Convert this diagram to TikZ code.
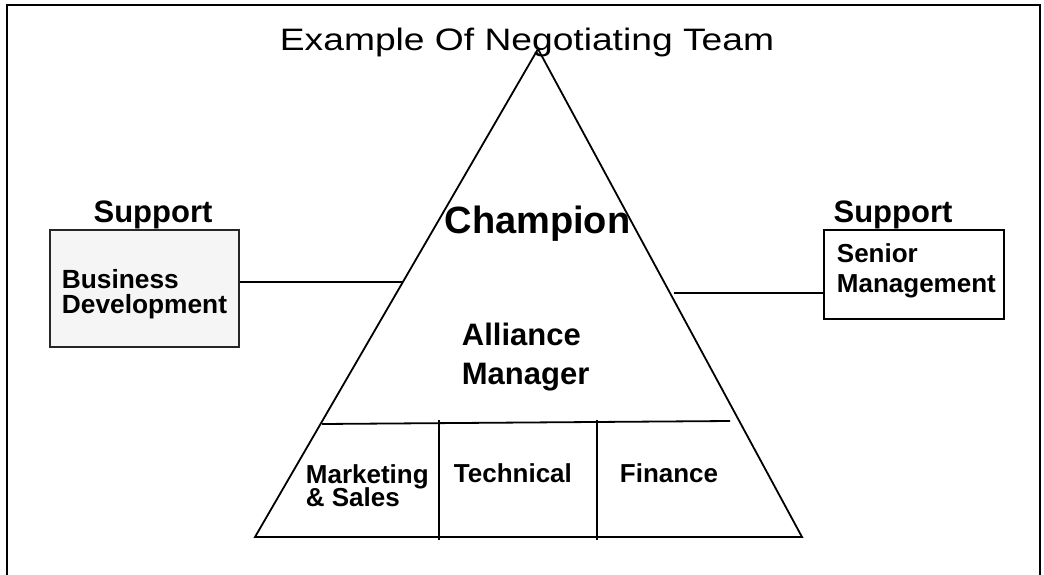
\documentclass[tikz,border=0pt]{standalone}
\usepackage{fontspec}
\setmainfont{Liberation Sans}

\newcommand{\fsz}[2]{\fontsize{#1}{#2}\selectfont\lineskiplimit=-50pt}

\begin{document}
\begin{tikzpicture}[x=1pt, y=-1pt, line width=1.8pt,
        txt/.style={inner sep=0pt, align=left},
        suppbox/.style={draw, line width=1.3pt, inner sep=0pt}]
        \useasboundingbox (0,0) rectangle (1044,575);

        % outer frame, open at the bottom
        \draw[line width=2.2pt] (7,580) -- (7,5) -- (1040,5) -- (1040,580);

        \node[txt, anchor=base, xscale=1.2, font=\fsz{31}{31}] (title) at (527,51) {Example Of Negotiating Team};

        % the pyramid
        \coordinate (apex) at (538,49);
        \coordinate (baseL) at (255,537);
        \coordinate (baseR) at (802,537);
        \draw (apex) -- (baseL) -- (baseR) -- cycle;
        \draw (322,424) -- (730,421);
        \foreach \x in {439,597}
            \draw (\x,420) -- (\x,540);

        \node[txt, anchor=base, font=\bfseries\fsz{38}{38}] (champion) at (537.5,233) {Champion};
        \node[txt, anchor=north west, font=\bfseries\fsz{31}{39}] (alliance) at (461,322) {Alliance\\Manager};
        \node[txt, anchor=north west, font=\bfseries\fsz{26}{22.5}] (marketing) at (305,464) {Marketing\\\& Sales};
        \node[txt, anchor=base west, font=\bfseries\fsz{26}{26}] (technical) at (453,482) {Technical};
        \node[txt, anchor=base west, font=\bfseries\fsz{26}{26}] (finance) at (619,482) {Finance};

        % support boxes at both sides
        \node[txt, anchor=base, font=\bfseries\fsz{31}{31}] (suppL) at (153,222) {Support};
        \node[txt, anchor=base, font=\bfseries\fsz{31}{31}] (suppR) at (893,222) {Support};
        \node[suppbox, fill=black!4, draw=black!85, minimum width=189pt, minimum height=117pt] (bizdev) at (144.5,288.5) {};
        \node[suppbox, minimum width=180pt, minimum height=89pt] (senior) at (914,274.5) {};
        \node[txt, anchor=north west, font=\bfseries\fsz{26.3}{24.5}] (bizdevtxt) at (61,269) {Business\\Development};
        \node[txt, anchor=north west, font=\bfseries\fsz{26}{30}] (seniortxt) at (836,243) {Senior\\Management};

        \coordinate (sideL) at (403,282);
        \coordinate (sideR) at (674,293);
        \draw[line width=1.3pt] (bizdev.east |- sideL) -- (sideL);
        \draw[line width=1.3pt] (sideR) -- (sideR -| senior.west);
    \end{tikzpicture}
\end{document}
